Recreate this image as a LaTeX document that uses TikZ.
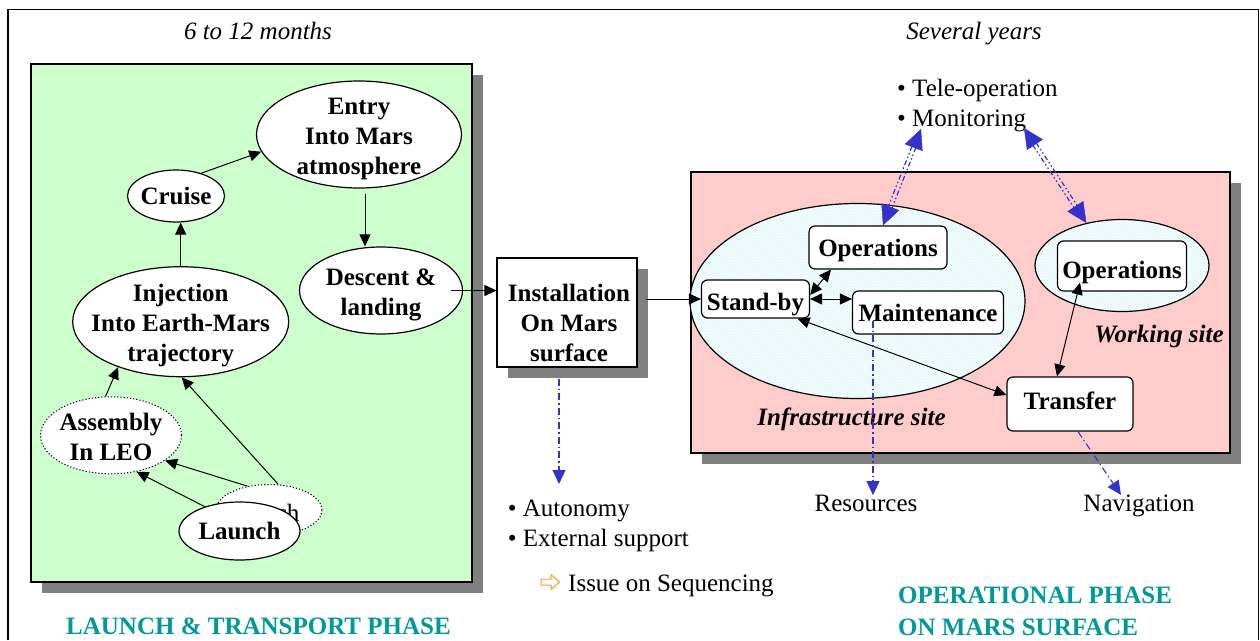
\documentclass[tikz,border=0pt]{standalone}
\usepackage{fontspec}
\setmainfont{Liberation Serif}
\usetikzlibrary{arrows.meta,shapes.geometric,patterns,calc}

\definecolor{greenbg}{HTML}{CCFFCC}
\definecolor{pinkbg}{HTML}{FFCCCC}
\definecolor{shadowgray}{HTML}{808080}
\definecolor{phaseteal}{HTML}{009999}
\definecolor{linkblue}{HTML}{3333CC}
\definecolor{hatchcyan}{HTML}{CCF5F5}
\definecolor{issueorange}{HTML}{FF9933}

\newcommand{\bigfont}{\fontsize{25pt}{30pt}\selectfont}
% invisible strut that lowers a multi-line label inside its ellipse
\newcommand{\lowstrut}[1]{\rule{0pt}{#1}}

% two parallel dash-dot-dot lines with a large head at each end
\newcommand{\teleLink}[2]{%
  \draw[telestroke] ($(#1)!2pt!90:(#2)$) -- ($(#2)!2pt!-90:(#1)$);
  \draw[telestroke] ($(#1)!2pt!-90:(#2)$) -- ($(#2)!2pt!90:(#1)$);
  \draw[linkblue, line cap=butt, dash pattern=on 0pt off 3000pt,
        {Triangle[length=20pt,width=19pt]}-{Triangle[length=20pt,width=19pt]}] (#1) -- (#2);
}

\begin{document}
\begin{tikzpicture}[x=1pt,y=-1pt,
  every node/.style={font=\bigfont, inner sep=0pt},
  stage/.style={ellipse, draw, line width=1.2pt, fill=white, inner sep=-14pt,
                align=center, font=\bfseries\bigfont},
  dotstage/.style={stage, dotted, line width=1pt},
  rbox/.style={rectangle, rounded corners=6pt, draw, line width=1.2pt, fill=white,
               align=center, font=\bfseries\bigfont, text height=17pt, text depth=0pt},
  site/.style={ellipse, draw, line width=1.2pt, preaction={fill=white},
               pattern=north west lines, pattern color=hatchcyan},
  flow/.style={-{Triangle[length=12pt,width=11pt]}, line width=1pt},
  both/.style={{Triangle[length=12pt,width=11pt]}-{Triangle[length=12pt,width=11pt]}, line width=1pt},
  linkdd/.style={linkblue, line width=1.1pt, dash pattern=on 7pt off 3pt on 1.5pt off 3pt,
                 -{Triangle[length=14pt,width=13pt]}},
  telestroke/.style={linkblue, line width=1.2pt, shorten <=19pt, shorten >=19pt,
                 dash pattern=on 5pt off 2.5pt on 1.5pt off 2.5pt on 1.5pt off 2.5pt},
  phase/.style={text=phaseteal, font=\bfseries\bigfont}
]
\useasboundingbox (0,0) rectangle (1260,640);

% outer frame
\draw[line width=1.5pt] (8,640) -- (8,9.5) -- (1258.5,9.5) -- (1258.5,640);

% durations
\node[anchor=base, font=\itshape\bigfont] (dur1) at (258,39) {6 to 12 months};
\node[anchor=base, font=\itshape\bigfont] (dur2) at (974,39) {Several years};

% launch & transport panel
\fill[shadowgray] (42,75) rectangle (483,593);
\draw[fill=greenbg, line width=1.2pt] (31,64) rectangle (472,582);

\node[stage, minimum width=205pt, minimum height=107pt] (entry) at (359,134.5) {\lowstrut{25pt}Entry\\Into Mars\\atmosphere};
\node[stage, minimum width=97pt, minimum height=52pt] (cruise) at (176,196) {Cruise};
\node[stage, minimum width=216pt, minimum height=110pt] (inj) at (180.7,321.7) {\lowstrut{25pt}Injection\\Into Earth-Mars\\trajectory};
\node[stage, minimum width=163pt, minimum height=87pt] (descent) at (381,290.5) {\lowstrut{25pt}Descent \&\\landing};
\node[dotstage, minimum width=141pt, minimum height=77pt] (asm) at (111,435.3) {\lowstrut{21pt}Assembly\\In LEO};
\node[dotstage, minimum width=106pt, minimum height=51pt, font=\bigfont, text height=23pt, text depth=0pt] (ghost) at (269,510) {Launch\hspace{14pt}};
\node[stage, minimum width=121pt, minimum height=58pt] (launch) at (239.5,531) {Launch};

\node[phase, anchor=base] (phase1) at (258.5,634.3) {LAUNCH \& TRANSPORT PHASE};

% installation step
\fill[shadowgray] (508,269) rectangle (648,378);
\node[rectangle, draw, line width=1.2pt, fill=white, minimum width=140pt, minimum height=109pt,
      label={[font=\bfseries\bigfont, align=center, yshift=-10pt, xshift=2pt]center:Installation\\On Mars\\surface}]
      (install) at (567,312.5) {};

\node[anchor=base west] (autonomy) at (507.7,516) {• Autonomy};
\node[anchor=base west] (support) at (507.7,546) {• External support};
\draw[issueorange, line width=1pt, line join=miter]
  (541,579) -- (551,579) -- (551,574.5) -- (559.5,582) -- (551,589.5) -- (551,585) -- (541,585) -- cycle;
\node[anchor=base west] (issue) at (568,591) {Issue on Sequencing};
\coordinate (autotip) at (559,484);

% operational panel
\fill[shadowgray] (702,183) rectangle (1241,464);
\draw[fill=pinkbg, line width=1.2pt] (691,172) rectangle (1230,453);

\node[site, minimum width=335pt, minimum height=195pt] (infra) at (857.5,301) {};
\node[site, minimum width=174pt, minimum height=92pt] (work) at (1122,265.5) {};

\node[rbox, minimum width=108pt, minimum height=38pt, text height=22pt] (standby) at (755.5,299) {Stand-by};
\node[rbox, minimum width=138pt, minimum height=43pt] (opsA) at (878,247.5) {Operations};
\node[rbox, minimum width=151pt, minimum height=43pt] (maint) at (928,312.5) {Maintenance};
\node[rbox, minimum width=129pt, minimum height=50pt, text height=25pt] (opsB) at (1122,266) {Operations};
\node[rbox, minimum width=126pt, minimum height=54pt, text depth=7pt] (transfer) at (1070,404) {Transfer};

\node[anchor=base, font=\bfseries\itshape\bigfont] (infralabel) at (851.5,425) {Infrastructure site};
\node[anchor=base, font=\bfseries\itshape\bigfont] (worklabel) at (1159,342.7) {Working site};

\node[anchor=base west] (tele) at (897,96.7) {• Tele-operation};
\node[anchor=base west] (monitor) at (897,126.7) {• Monitoring};
\coordinate (monL) at (921,129);
\coordinate (monR) at (1024,128);

\node[anchor=base] (resources) at (866,511.7) {Resources};
\node[anchor=base] (navigation) at (1139,511.7) {Navigation};

\node[phase, anchor=base west] (phase2a) at (898,603.3) {OPERATIONAL PHASE};
\node[phase, anchor=base west] (phase2b) at (898,635) {ON MARS SURFACE};

% launch & transport flow
\draw[flow] (cruise.42) -- (entry.190);
\draw[flow] (inj.north) -- (inj.north |- cruise.south);
\draw[flow] ([xshift=6pt,yshift=-5pt]entry.south) -- ([xshift=6pt]entry.south |- descent.north);
\draw[flow] ([xshift=-12pt]descent.east) -- (descent.east -| install.west);
\draw[flow] (asm.98) -- (inj.216);
\draw[flow] (ghost.70) -- (inj.271);
\draw[flow] (ghost.132) -- (asm.335);
\draw[flow] (launch.145) -- (asm.305);

% surface operations flow
\draw[flow] ([xshift=8pt]install.east |- standby.west) -- (standby.west);
\draw[both] ([yshift=4pt]standby.east) -- ([xshift=-47pt]opsA.south);
\draw[both] (standby.east) -- (standby.east -| maint.west);
\draw[both] ([xshift=42pt]standby.south) -- ([yshift=9pt]transfer.west);
\draw[both] ([xshift=-13pt]transfer.north) -- ([xshift=-42pt,yshift=9pt]opsB.south);

% remote links
\coordinate (opsAtip) at ([xshift=5pt]opsA.north);
\coordinate (worktip) at (work.130);
\teleLink{monL}{opsAtip}
\teleLink{monR}{worktip}

% side issues
\draw[linkdd] ([xshift=-8pt,yshift=-11pt]install.south) -- (autotip);
\draw[linkdd] ([xshift=-55pt,yshift=-8pt]maint.center) -- ([xshift=-55pt]maint.center |- resources.north);
\draw[linkdd] ([xshift=8pt]transfer.south) -- ([xshift=-18pt]navigation.north);
\end{tikzpicture}
\end{document}
